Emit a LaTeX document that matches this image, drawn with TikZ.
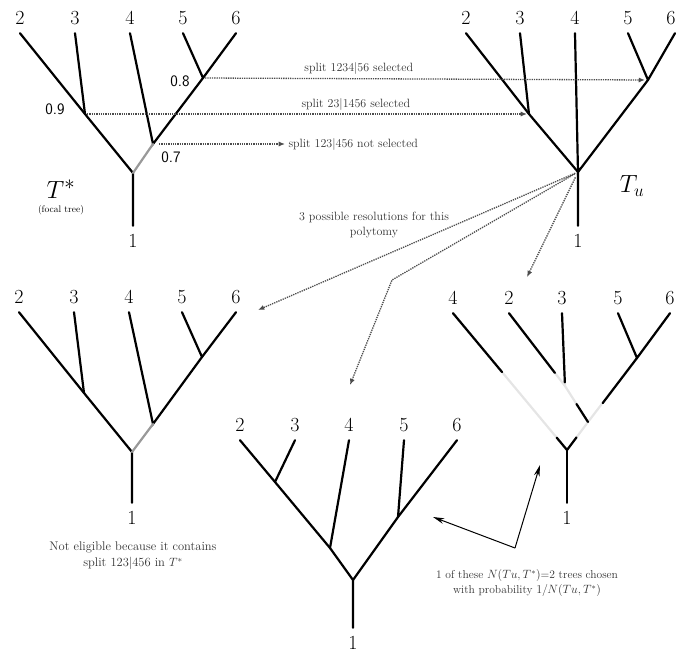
\documentclass[tikz,border=0pt]{standalone}
\usetikzlibrary{arrows.meta,calc}

\begin{document}
\begin{tikzpicture}[
    x=1pt, y=-1pt,
    taxon/.style={font=\fontsize{20}{24}\selectfont, inner sep=0pt, minimum height=30pt},
    branch/.style={line width=2.2pt, line cap=round},
    faded/.style={branch, black!10},
    support/.style={font=\sffamily\fontsize{16}{18}\selectfont},
    note/.style={font=\fontsize{12}{15}\selectfont, align=center, text=black!80},
    link/.style={densely dotted, line width=1.3pt, black!70, -{Latex[length=2.2mm,width=1.8mm]}},
    pick/.style={line width=1pt, -{Stealth[length=4mm,width=2mm]}}
]
\useasboundingbox (0,0) rectangle (678,654);

% focal tree T*
\node[taxon] (s2) at (20,18) {2};
\node[taxon] (s3) at (75,18) {3};
\node[taxon] (s4) at (130,18) {4};
\node[taxon] (s5) at (183,18) {5};
\node[taxon] (s6) at (236,18) {6};
\node[taxon] (s1) at (133,241) {1};
\coordinate (s23) at (85,114);
\coordinate (s56) at (203,78);
\coordinate (s456) at (153,144);
\coordinate (sr) at (133,173);
\draw[branch] (s2.south) -- (s23) -- (sr) -- (s1.north);
\draw[branch] (s3.south) -- (s23) (s4.south) -- (s456) -- (s56) -- (s6.south) (s5.south) -- (s56);
\draw[branch, black!40] (s456) -- (sr);
\node[support] (p9) at (55,109) {0.9};
\node[support] (p8) at (180,81) {0.8};
\node[support] (p7) at (171,157) {0.7};
\node[font=\fontsize{28}{30}\selectfont] (tstar) at (61,189) {$T^*$};
\node[font=\fontsize{9.5}{11}\selectfont, below=0pt] (focal) at (tstar.south) {(focal tree)};

% tree from the sample, T_u
\node[taxon] (u2) at (466,18) {2};
\node[taxon] (u3) at (520,18) {3};
\node[taxon] (u4) at (575,18) {4};
\node[taxon] (u5) at (628,18) {5};
\node[taxon] (u6) at (671,18) {6};
\node[taxon] (u1) at (578,241) {1};
\coordinate (u23) at (529,114);
\coordinate (u56) at (648,80);
\coordinate (ur) at (578,172);
\draw[branch] (u2.south) -- (u23) -- (ur) -- (u1.north);
\draw[branch] (u3.south) -- (u23) (u4.south) -- (ur) -- (u56) -- ($(u6.south)+(4,0)$) (u5.south) -- (u56);
\node[font=\fontsize{26}{28}\selectfont] (tu) at (632,186) {$T_u$};

% splits of T* checked against T_u
\draw[link, shorten <=2pt, shorten >=3pt] (s56) -- (u56)
    node[note, pos=0.35, above] (sel56) {split 1234|56 selected};
\draw[link, shorten <=2pt, shorten >=2pt] (s23) -- (u23)
    node[note, pos=0.61, above] (sel23) {split 23|1456 selected};
\node[note, anchor=west] (nosel) at (285,144) {split 123|456 not selected};
\draw[link, shorten <=6pt] (s456) -- (nosel.west);

% resolutions of the polytomy
\node[note] (polynote) at (374,225) {3 possible resolutions for this\\polytomy};
\coordinate (toleft) at (258,310);
\coordinate (kink) at (392,280);
\coordinate (tomid) at (350,385);
\coordinate (toright) at (527,277);
\draw[link, shorten <=3pt] (ur) -- (toleft);
\draw[link, shorten <=4pt] (ur) -- (kink) -- (tomid);
\draw[link, shorten <=6pt] (ur) -- (toright);

% resolution 1 (not eligible)
\node[taxon] (l2) at (19,297) {2};
\node[taxon] (l3) at (74,297) {3};
\node[taxon] (l4) at (129,297) {4};
\node[taxon] (l5) at (182,297) {5};
\node[taxon] (l6) at (236,297) {6};
\node[taxon] (l1) at (132,518) {1};
\coordinate (l23) at (84,393);
\coordinate (l56) at (202,357);
\coordinate (l456) at (153,424);
\coordinate (lr) at (132,452);
\draw[branch] (l2.south) -- (l23) -- (lr) -- (l1.north);
\draw[branch] (l3.south) -- (l23) (l4.south) -- (l456) -- (l56) -- (l6.south) (l5.south) -- (l56);
\draw[branch, black!40] (l456) -- (lr);
\node[note, font=\fontsize{12.5}{16}\selectfont] (noteleft) at (133,556) {Not eligible because it contains\\split 123|456 in $T^*$};

% resolution 2
\node[taxon] (m2) at (240,425) {2};
\node[taxon] (m3) at (295,425) {3};
\node[taxon] (m4) at (349,425) {4};
\node[taxon] (m5) at (404,425) {5};
\node[taxon] (m6) at (457,425) {6};
\node[taxon] (m1) at (353,643) {1};
\coordinate (m23) at (275,482);
\coordinate (m234) at (330,548);
\coordinate (m56) at (398,517);
\coordinate (mr) at (353,580);
\draw[branch] (m2.south) -- (m23) -- (m234) -- (mr) -- (m1.north);
\draw[branch] (m3.south) -- (m23) (m4.south) -- (m234) (mr) -- (m56) -- (m6.south) (m5.south) -- (m56);

% resolution 3 (partly faded)
\node[taxon] (r4) at (453,298) {4};
\node[taxon] (r2) at (509,298) {2};
\node[taxon] (r3) at (562,298) {3};
\node[taxon] (r5) at (618,298) {5};
\node[taxon] (r6) at (670,298) {6};
\node[taxon] (r1) at (567,518) {1};
\coordinate (r23) at (565,386);
\coordinate (r56) at (637,358);
\coordinate (r2356) at (588,422);
\coordinate (rr) at (567,450);
\draw[faded] (r4.south) -- (rr) -- (r2356) -- (r56) -- (r6.south);
\draw[faded] (r2.south) -- (r23) -- (r2356) (r3.south) -- (r23);
\draw[branch] (r4.south) -- ($(r4.south)!0.43!(rr)$);
\draw[branch] ($(r4.south)!0.91!(rr)$) -- (rr) -- ($(rr)!0.45!(r2356)$);
\draw[branch] (r2.south) -- ($(r2.south)!0.82!(r23)$);
\draw[branch] (r3.south) -- ($(r3.south)!0.95!(r23)$);
\draw[branch] ($(r23)!0.5!(r2356)$) -- (r2356);
\draw[branch] (r6.south) -- (r56) -- ($(r56)!0.49!(rr)$) (r5.south) -- (r56);
\draw[branch] (rr) -- (r1.north);

% random choice between the eligible ones
\coordinate (pivot) at (515,548);
\coordinate (pickm) at (433,517);
\coordinate (pickr) at (540,465);
\draw[pick] (pivot) -- (pickm);
\draw[pick] (pivot) -- (pickr);
\node[note, font=\fontsize{11.5}{15}\selectfont] (notepick) at (527,583) {1 of these $N(Tu,T^*)$=2 trees chosen\\with probability $1/N(Tu,T^*)$};
\end{tikzpicture}
\end{document}
